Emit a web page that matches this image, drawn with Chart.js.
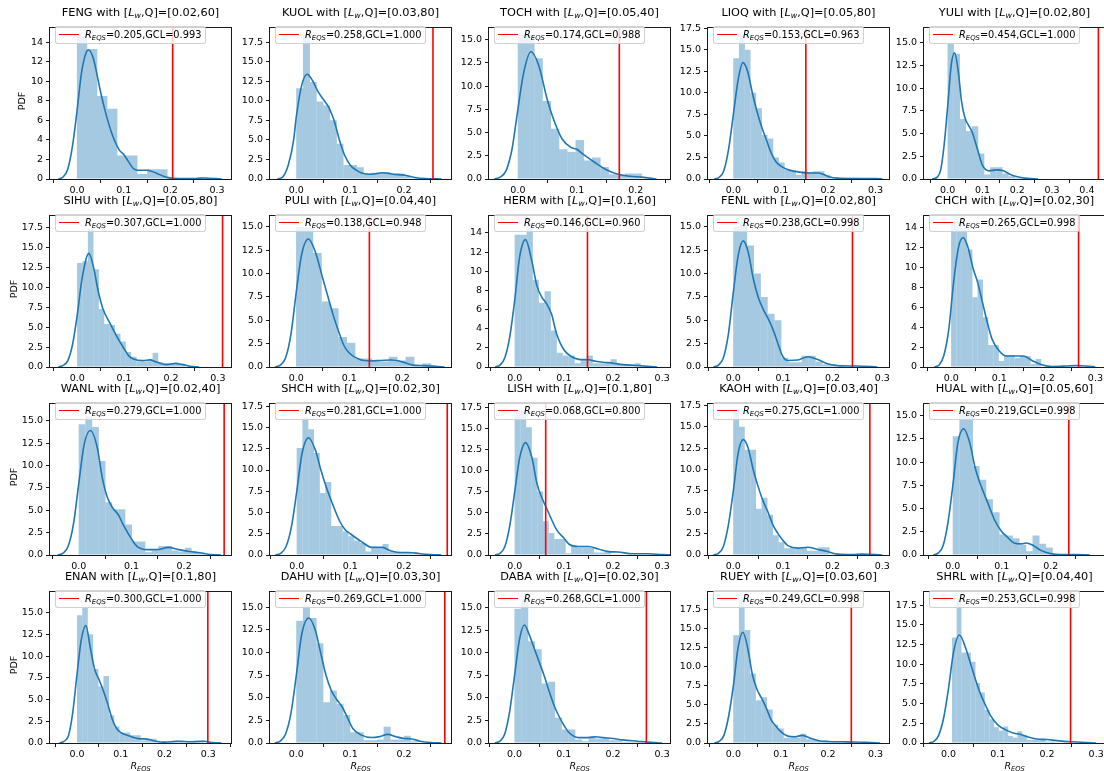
<!DOCTYPE html>
<html><head><meta charset="utf-8">
<script src="https://cdn.jsdelivr.net/npm/chart.js@4.4.1/dist/chart.umd.min.js"></script>
<style>
html,body{margin:0;padding:0;background:#fff;}
body{width:1104px;height:771px;overflow:hidden;position:relative;font-family:"DejaVu Sans",sans-serif;color:#000;}
canvas{position:absolute;}
.ttl{position:absolute;font-size:11.3px;line-height:14px;text-align:center;white-space:nowrap;}
.leg{position:absolute;box-sizing:border-box;height:18px;display:flex;align-items:center;padding:0 4px 0 3px;border:1px solid rgba(204,204,204,0.9);border-radius:3px;background:rgba(255,255,255,0.8);font-size:9.8px;white-space:nowrap;}
.leg .ln{display:inline-block;width:20px;height:1.6px;background:#ff0000;margin-right:6px;}
sub{font-size:70%;vertical-align:-0.3em;line-height:0;}
.ylab{position:absolute;width:40px;height:12px;line-height:12px;font-size:9.5px;text-align:center;transform:rotate(-90deg);white-space:nowrap;}
.xlab{position:absolute;font-size:9.5px;line-height:12px;text-align:center;white-space:nowrap;}
</style></head><body>
<script>
// ---------------- data ----------------
const stations = ['FENG','KUOL','TOCH','LIOQ','YULI','SIHU','PULI','HERM','FENL','CHCH','WANL','SHCH','LISH','KAOH','HUAL','ENAN','DAHU','DABA','RUEY','SHRL'];
const lw  = [0.02,0.03,0.05,0.05,0.02, 0.05,0.04,0.1,0.02,0.02, 0.02,0.02,0.1,0.03,0.05, 0.1,0.03,0.02,0.03,0.04];
const qv  = [60,80,40,80,80, 80,40,60,80,30, 40,30,80,40,60, 80,30,30,60,40];
const rEqs = [0.205,0.258,0.174,0.153,0.454, 0.307,0.138,0.146,0.238,0.265, 0.279,0.281,0.068,0.275,0.219, 0.300,0.269,0.268,0.249,0.253];
const gcl  = [0.993,1.000,0.988,0.963,1.000, 1.000,0.948,0.960,0.998,0.998, 1.000,1.000,0.800,1.000,0.998, 1.000,1.000,1.000,0.998,0.998];
// x position of the red vertical line as drawn in the picture
const lineX = [0.205,0.254,0.172,0.153,0.433, 0.31,0.138,0.148,0.24,0.265, 0.276,0.281,0.063,0.275,0.237, 0.299,0.276,0.268,0.249,0.248];
const xMin = [-0.058,-0.049,-0.049,-0.0536,-0.068, -0.058,-0.0495,-0.0524,-0.051,-0.0566, -0.0547,-0.05,-0.0524,-0.051,-0.059, -0.062,-0.049,-0.052,-0.0536,-0.05];
const xMax = [0.330,0.2875,0.258,0.3286,0.452, 0.328,0.292,0.316,0.3136,0.32, 0.289,0.288,0.316,0.3136,0.311, 0.352,0.2875,0.316,0.3286,0.318];
const xTickTop = [0.3,0.2,0.2,0.3,0.4, 0.3,0.2,0.3,0.3,0.3, 0.2,0.2,0.3,0.3,0.2, 0.3,0.2,0.3,0.3,0.3];
const yMax = [15.48,19.35,16.28,17.55,16.67, 19.04,16.2,15.8,16.2,15.2, 16.9,17.8,17.9,17.7,16.3, 17.4,16.7,16.8,19.8,19.2];
const yStep = [2,2.5,2.5,2.5,2.5, 2.5,2.5,2,2.5,2, 2.5,2.5,2.5,2.5,2.5, 2.5,2.5,2.5,2.5,2.5];
const yTickTop = [14,17.5,15,17.5,15, 17.5,15,14,15,14, 15,17.5,17.5,17.5,15, 15,15,15,17.5,17.5];
const binStart = [0,0,0,0,0, 0,0,0,0,0, 0,0,0,0,0, 0,0,0,0,0.007];
const binWidth = [0.0215,0.0125,0.014,0.012,0.0175, 0.0115,0.0159,0.0122,0.0138,0.011, 0.0126,0.0107,0.0115,0.0114,0.0136, 0.0121,0.0125,0.0137,0.0118,0.0095];
const hist = [
 [14.6,13.3,8.5,7.2,2.4,2.4,0.5,1.0,1.0,0.15,0.05,0.05,0.15,0.05],
 [11.6,18.4,12.4,9.9,9.4,7.5,4.5,1.8,1.8,1.5,0.6,0.8,0.8,0.9,0.7,0.7,0.3,0.1,0.1,0.1],
 [15.5,15.5,13.0,8.4,5.4,3.2,2.9,4.2,2.0,2.3,1.3,0.5,0.4,0.6,0.6],
 [14.0,16.7,15.0,10.0,8.2,5.1,4.7,2.5,1.9,1.1,1.0,0.5,0.9,0.8,0.9,0.9,0.5,0.1,0.1,0.1,0.15,0.15,0.1,0.1,0.05],
 [15.0,13.8,6.6,5.3,5.8,2.8,0.5,1.3,1.3,0.6,0.3,0.1],
 [13.1,13.3,17.4,12.3,7.3,5.4,5.3,4.2,3.2,1.9,1.3,0.7,0.7,0.8,1.8,0.6,0.5,0.5,0.5,0.4,0.1],
 [15.0,15.0,12.2,7.0,6.3,3.2,2.6,0.9,0.9,0.6,0.6,1.1,0.7,1.1,0.2,0.4],
 [13.8,13.8,15.0,9.1,6.7,7.9,3.8,1.5,1.2,1.2,0.4,0.7,1.2,0.4,0.4,0.4,0.8,0.3,0.3,0.3,0.4,0.1],
 [15.0,15.2,13.0,10.0,7.5,5.7,5.0,1.0,0.5,0.5,1.2,1.2,0.6,0.3,0.3,0.05,0.05,0.05,0.05,0.05,0.05],
 [14.5,14.5,13.8,11.8,7.0,8.8,5.0,2.2,2.2,0.6,1.2,1.2,0.9,1.1,1.1,0.3,0.8,0,0,0,0,0,0.1,0.1,0.1],
 [14.6,15.5,14.3,10.5,5.9,5.1,5.1,3.4,1.5,1.5,0.3,0.5,1.0,1.0,0.5,0.4,0.8,0.35,0.2],
 [12.6,16.2,14.8,12.0,7.3,8.6,3.4,3.4,2.8,2.2,1.7,1.4,0.4,0.8,0.8,1.3,0.4,0.4,0.3,0.3,0.1],
 [17.0,17.0,15.1,11.5,7.5,4.0,2.6,1.9,1.9,0.2,1.1,0.9,0.9,0.9,0.3,0.3,0.5,0.1,0.1,0.05,0.05,0.05,0.05,0.05],
 [16.8,15.0,12.3,12.3,5.4,6.7,4.7,2.3,1.5,0.8,0.9,0.9,0.9,0.5,0.5,0.9,0.9,0.1,0.1,0.05,0.05,0.05,0.1,0.1],
 [12.8,15.5,15.5,9.6,8.1,6.0,4.6,2.2,2.1,1.8,1.1,0.4,2.1,1.2,0.8,0.1],
 [14.7,15.7,12.5,8.5,6.5,7.7,3.2,1.9,1.2,1.2,0.9,0.9,0.3,0.5,0.5,0.1,0.1,0.1,0.3,0.3,0.1,0.1,0.3,0.3],
 [13.5,15.2,13.8,11.0,4.5,5.8,4.3,3.1,1.2,1.2,0.3,0.3,0.4,1.8,0.4,0.4,0.8,0.2],
 [14.9,16.0,11.3,10.4,6.6,6.8,2.8,1.5,1.5,0.4,0.2,0.7,0.5,0.5,0.3,0.3,0.1,0.1,0.1,0.1],
 [14.1,18.8,14.8,9.1,5.6,6.0,4.4,2.4,1.9,0.7,0.7,0.7,1.2,0.5,0.5,0.3,0.3,0.2,0.2,0.1,0.1,0.1,0.1,0.1,0.05],
 [13.4,18.2,11.5,11.5,10.3,7.6,6.4,4.2,3.0,2.0,1.6,2.1,0.9,0.7,1.5,1.0,0.4,0.4,0.4,0.4,0.2,0.2,0.1,0.05,0.1,0.05]
];
const kde = [
 [[-0.04,0],[-0.03,0.2],[-0.02,1.0],[-0.01,3.3],[0,7.0],[0.01,11.0],[0.02,13.0],[0.025,13.2],[0.035,12.3],[0.05,9.0],[0.06,7.0],[0.075,4.6],[0.09,3.0],[0.1,2.5],[0.11,1.8],[0.12,1.1],[0.13,0.9],[0.15,0.9],[0.17,0.6],[0.19,0.2],[0.21,0.05],[0.25,0.05],[0.27,0.1],[0.31,0]],
 [[-0.035,0],[-0.025,0.3],[-0.015,1.8],[-0.005,5],[0,8],[0.01,12],[0.02,13.4],[0.03,12.6],[0.04,11.2],[0.05,10.2],[0.06,9.2],[0.07,7.5],[0.08,5],[0.09,3],[0.1,1.8],[0.11,1.2],[0.12,0.8],[0.14,0.6],[0.16,0.8],[0.18,0.6],[0.2,0.5],[0.22,0.2],[0.24,0.05],[0.27,0]],
 [[-0.04,0],[-0.03,0.2],[-0.02,0.9],[-0.01,3.2],[0,7.5],[0.01,11.5],[0.022,13.7],[0.035,12.3],[0.05,8.5],[0.06,6.5],[0.075,4.3],[0.09,3.4],[0.1,3.2],[0.11,2.7],[0.13,1.8],[0.15,1.0],[0.17,0.5],[0.19,0.3],[0.21,0.2],[0.235,0]],
 [[-0.04,0],[-0.03,0.2],[-0.02,1.0],[-0.01,3.5],[0,7.5],[0.01,11.5],[0.02,13.5],[0.03,12.5],[0.04,10],[0.05,7.8],[0.06,6],[0.07,4.5],[0.08,3],[0.09,2],[0.1,1.5],[0.12,1.0],[0.14,0.8],[0.16,0.7],[0.18,0.7],[0.2,0.3],[0.22,0.1],[0.26,0.05],[0.3,0.05],[0.315,0]],
 [[-0.045,0],[-0.03,0.2],[-0.02,1.0],[-0.01,3.8],[0,8],[0.01,12.5],[0.02,13.9],[0.03,12],[0.04,8.5],[0.05,6.7],[0.06,5.9],[0.07,5.2],[0.08,4],[0.09,2.7],[0.1,1.5],[0.12,0.9],[0.14,1.0],[0.16,0.9],[0.18,0.5],[0.2,0.25],[0.22,0.1],[0.26,0]],
 [[-0.04,0],[-0.03,0.2],[-0.02,0.8],[-0.01,2.8],[0,6.5],[0.01,11],[0.025,14.3],[0.035,12.5],[0.045,9.5],[0.055,7.3],[0.07,5.5],[0.085,3.8],[0.1,2.3],[0.11,1.4],[0.12,1.0],[0.14,0.8],[0.155,0.9],[0.17,0.6],[0.19,0.3],[0.21,0.45],[0.225,0.3],[0.24,0.1],[0.26,0]],
 [[-0.04,0],[-0.03,0.2],[-0.02,1.0],[-0.01,3.5],[0,8],[0.01,12],[0.023,13.7],[0.035,12.5],[0.05,9.5],[0.06,7.5],[0.07,5.5],[0.08,3.8],[0.09,2.3],[0.1,1.5],[0.12,0.8],[0.14,0.65],[0.16,0.7],[0.18,0.75],[0.2,0.55],[0.22,0.2],[0.24,0.15],[0.28,0]],
 [[-0.04,0],[-0.03,0.2],[-0.02,1.0],[-0.01,3.2],[0,7],[0.01,11.5],[0.022,13.3],[0.035,11],[0.045,8.5],[0.055,7.3],[0.065,6.6],[0.075,5.5],[0.085,3.5],[0.1,1.8],[0.115,1.1],[0.13,0.8],[0.15,0.75],[0.165,0.6],[0.18,0.5],[0.2,0.4],[0.22,0.25],[0.25,0.15],[0.29,0]],
 [[-0.04,0],[-0.03,0.2],[-0.02,1.0],[-0.01,3.5],[0,8],[0.01,12],[0.02,13.5],[0.03,12.3],[0.04,9.5],[0.05,7.5],[0.06,6.2],[0.07,5.2],[0.08,4],[0.09,2.5],[0.1,1.1],[0.11,0.7],[0.13,0.75],[0.15,1.1],[0.17,0.8],[0.19,0.35],[0.21,0.15],[0.25,0.1],[0.29,0]],
 [[-0.035,0],[-0.025,0.2],[-0.015,1.2],[-0.005,3.8],[0.005,8.5],[0.015,12],[0.025,13],[0.035,12],[0.045,10],[0.055,8.5],[0.065,6.5],[0.075,4.5],[0.085,2.8],[0.1,1.6],[0.115,1.1],[0.13,1.1],[0.15,1.1],[0.17,0.6],[0.19,0.2],[0.21,0.05],[0.24,0.1],[0.26,0.15],[0.28,0.1],[0.3,0]],
 [[-0.04,0],[-0.03,0.2],[-0.02,1.0],[-0.01,3.5],[0,8],[0.01,12.3],[0.022,13.9],[0.035,12],[0.045,8.5],[0.055,6.3],[0.065,5.2],[0.075,4.5],[0.085,3.3],[0.1,1.8],[0.11,1.0],[0.13,0.6],[0.15,0.6],[0.17,0.85],[0.19,0.6],[0.21,0.4],[0.23,0.25],[0.25,0.05],[0.27,0]],
 [[-0.04,0],[-0.03,0.2],[-0.02,1.0],[-0.01,3.3],[0,7.5],[0.01,12],[0.022,13.8],[0.035,12.3],[0.045,10],[0.055,8],[0.065,6.3],[0.08,4],[0.09,3],[0.1,2.5],[0.12,1.6],[0.14,0.9],[0.16,0.9],[0.175,0.5],[0.19,0.3],[0.21,0.3],[0.23,0.15],[0.25,0.05],[0.27,0]],
 [[-0.04,0],[-0.03,0.2],[-0.02,1.0],[-0.01,3.5],[0,7.5],[0.01,11.5],[0.022,13.3],[0.035,11.5],[0.045,8.5],[0.055,6.8],[0.065,5.5],[0.075,4.2],[0.085,3],[0.1,2],[0.11,1.3],[0.13,1.0],[0.15,1.0],[0.17,0.7],[0.19,0.4],[0.21,0.35],[0.24,0.15],[0.27,0.15],[0.3,0.05],[0.32,0]],
 [[-0.04,0],[-0.03,0.2],[-0.02,1.0],[-0.01,3.5],[0,7.5],[0.01,12],[0.02,13.5],[0.03,12.5],[0.04,10],[0.05,8],[0.06,6.3],[0.07,5],[0.08,3.5],[0.09,2.5],[0.1,1.7],[0.11,1.1],[0.13,0.8],[0.15,0.9],[0.17,0.65],[0.19,0.4],[0.21,0.1],[0.24,0.05],[0.26,0.1],[0.3,0]],
 [[-0.04,0],[-0.03,0.2],[-0.02,1.0],[-0.01,3.5],[0,7.5],[0.01,12],[0.022,13.6],[0.035,12],[0.045,9.5],[0.055,7.8],[0.07,5.8],[0.085,3.8],[0.1,2.5],[0.11,2.0],[0.125,1.3],[0.14,1.2],[0.15,1.3],[0.165,1.0],[0.18,0.5],[0.2,0.15],[0.22,0.05],[0.25,0.05],[0.28,0]],
 [[-0.04,0],[-0.03,0.2],[-0.02,0.8],[-0.01,3.5],[0,8],[0.01,12],[0.02,13.5],[0.03,11],[0.04,8.5],[0.05,7.3],[0.06,6],[0.07,4.5],[0.08,2.8],[0.09,1.7],[0.1,1.2],[0.12,0.8],[0.14,0.5],[0.16,0.45],[0.18,0.2],[0.2,0.1],[0.23,0.2],[0.26,0.15],[0.29,0.2],[0.31,0.05],[0.33,0]],
 [[-0.04,0],[-0.03,0.2],[-0.02,1.0],[-0.01,3.3],[0,7.5],[0.01,12],[0.023,13.8],[0.035,12.5],[0.045,10],[0.055,7.5],[0.065,5.8],[0.075,4.8],[0.085,4],[0.095,2.8],[0.105,1.6],[0.12,0.9],[0.14,0.6],[0.155,0.7],[0.17,0.95],[0.185,0.7],[0.2,0.5],[0.215,0.45],[0.23,0.2],[0.25,0.05],[0.27,0]],
 [[-0.04,0],[-0.03,0.2],[-0.02,1.0],[-0.01,3.5],[0,7.5],[0.01,11.5],[0.02,13.1],[0.03,12],[0.04,10.5],[0.05,9],[0.06,7.5],[0.07,5.8],[0.08,4.2],[0.09,3],[0.1,2.0],[0.11,1.2],[0.13,0.6],[0.15,0.6],[0.165,0.7],[0.18,0.6],[0.2,0.5],[0.22,0.35],[0.25,0.2],[0.27,0.1],[0.3,0]],
 [[-0.04,0],[-0.03,0.2],[-0.02,1.0],[-0.01,3.5],[0,7.5],[0.01,12.5],[0.02,14.5],[0.03,12.5],[0.04,9],[0.05,7],[0.06,5.8],[0.07,4.5],[0.08,3],[0.09,2.2],[0.1,1.5],[0.115,0.9],[0.13,0.8],[0.145,1.0],[0.16,0.7],[0.18,0.3],[0.2,0.2],[0.24,0.15],[0.28,0.1],[0.31,0]],
 [[-0.04,0],[-0.03,0.2],[-0.02,1.0],[-0.01,3.2],[0,7],[0.01,11.5],[0.022,13.7],[0.035,12],[0.045,10],[0.055,8],[0.065,6.2],[0.075,4.8],[0.085,3.5],[0.1,2.3],[0.115,1.7],[0.13,1.3],[0.145,1.1],[0.16,0.8],[0.18,0.5],[0.2,0.45],[0.22,0.3],[0.25,0.15],[0.27,0.1],[0.3,0]]
];

// ---------------- layout ----------------
const COL_L = [50, 270, 489, 708, 924];
const ROW_T = [23, 211, 399, 587];
const YLAB_X = [22, 14, 14, 14];
const AX_W = 181, AX_H = 156;
const YW = 42, XH = 24, PT = 4, PR = 16;

Chart.defaults.font.family = '"DejaVu Sans", sans-serif';
Chart.defaults.color = '#000';

const frame = {
  id: 'frame',
  afterDraw(ch) {
    const a = ch.chartArea, ctx = ch.ctx;
    ctx.save();
    ctx.strokeStyle = '#1a1a1a';
    ctx.lineWidth = 1;
    ctx.strokeRect(Math.round(a.left) - 0.5, Math.round(a.top) - 0.5,
                   Math.round(a.right - a.left) + 1, Math.round(a.bottom - a.top) + 1);
    ctx.restore();
  }
};

function el(tag, cls, html, css) {
  const d = document.createElement(tag);
  if (cls) d.className = cls;
  if (html) d.innerHTML = html;
  Object.assign(d.style, css || {});
  document.body.appendChild(d);
  return d;
}

stations.forEach((st, i) => {
  const r = Math.floor(i / 5), c = i % 5;
  const axL = COL_L[c], axT = ROW_T[r];
  const cv = document.createElement('canvas');
  cv.width = AX_W + YW + PR;
  cv.height = AX_H + PT + XH;
  cv.style.left = (axL - YW) + 'px';
  cv.style.top = (axT - PT) + 'px';
  document.body.appendChild(cv);

  const xt = [];
  for (let k = 0; k <= Math.round(xTickTop[i] * 10); k++) xt.push(k / 10);
  const yt = [];
  for (let k = 0; k <= Math.round(yTickTop[i] / yStep[i]); k++) yt.push(k * yStep[i]);
  const yDec = (yStep[i] % 1) ? 1 : 0;

  const bars = hist[i].map((h, k) => ({ x: binStart[i] + binWidth[i] * (k + 0.5), y: h }));
  const curve = kde[i].map(p => ({ x: p[0], y: p[1] }));
  const vline = [{ x: lineX[i], y: 0 }, { x: lineX[i], y: yMax[i] }];

  new Chart(cv, {
    type: 'bar',
    data: {
      datasets: [
        { type: 'line', label: 'R_EQS', data: vline, borderColor: '#ff0000', borderWidth: 1.6,
          pointRadius: 0, fill: false, order: 1 },
        { type: 'line', label: 'kde', data: curve, borderColor: '#1f77b4', borderWidth: 1.6,
          pointRadius: 0, fill: false, cubicInterpolationMode: 'monotone', order: 2 },
        { type: 'bar', label: 'hist', data: bars, backgroundColor: 'rgb(165,201,225)',
          borderWidth: 0, barPercentage: 1.04, categoryPercentage: 1, order: 3 }
      ]
    },
    options: {
      responsive: false, animation: false, devicePixelRatio: 1,
      layout: { padding: { left: 0, right: PR, top: PT, bottom: 0 } },
      plugins: { legend: { display: false }, tooltip: { enabled: false } },
      scales: {
        x: {
          type: 'linear', min: xMin[i], max: xMax[i], offset: false,
          afterBuildTicks: s => { s.ticks = xt.map(v => ({ value: v })); },
          afterFit: s => { s.height = XH; },
          grid: { drawOnChartArea: false, drawTicks: true, tickLength: 4, tickColor: '#1a1a1a' },
          border: { display: false },
          ticks: { font: { size: 9.5 }, padding: 2, maxRotation: 0, autoSkip: false,
                   callback: v => Number(v).toFixed(1) }
        },
        y: {
          type: 'linear', min: 0, max: yMax[i],
          afterBuildTicks: s => { s.ticks = yt.map(v => ({ value: v })); },
          afterFit: s => { s.width = YW; },
          grid: { drawOnChartArea: false, drawTicks: true, tickLength: 4, tickColor: '#1a1a1a' },
          border: { display: false },
          ticks: { font: { size: 9.5 }, padding: 3, autoSkip: false,
                   callback: v => Number(v).toFixed(yDec) }
        }
      }
    },
    plugins: [frame]
  });

  // title
  el('div', 'ttl', st + ' with [<i>L</i><sub><i>w</i></sub>,Q]=[' + lw[i] + ',' + qv[i] + ']',
     { left: axL + 'px', width: AX_W + 'px', top: (axT - 17) + 'px' });
  // legend
  el('div', 'leg', '<span class="ln"></span><span><i>R</i><sub><i>EQS</i></sub>=' + rEqs[i].toFixed(3) + ',GCL=' + gcl[i].toFixed(3) + '</span>',
     { left: (axL + 5) + 'px', top: (axT + 2.5) + 'px' });
  if (c === 0) el('div', 'ylab', 'PDF', { left: (YLAB_X[r] - 20) + 'px', top: (axT + AX_H / 2 - 6) + 'px' });
  if (r === 3) el('div', 'xlab', '<i>R</i><sub><i>EQS</i></sub>', { left: axL + 'px', width: AX_W + 'px', top: '760px' });
});
</script>
</body></html>
